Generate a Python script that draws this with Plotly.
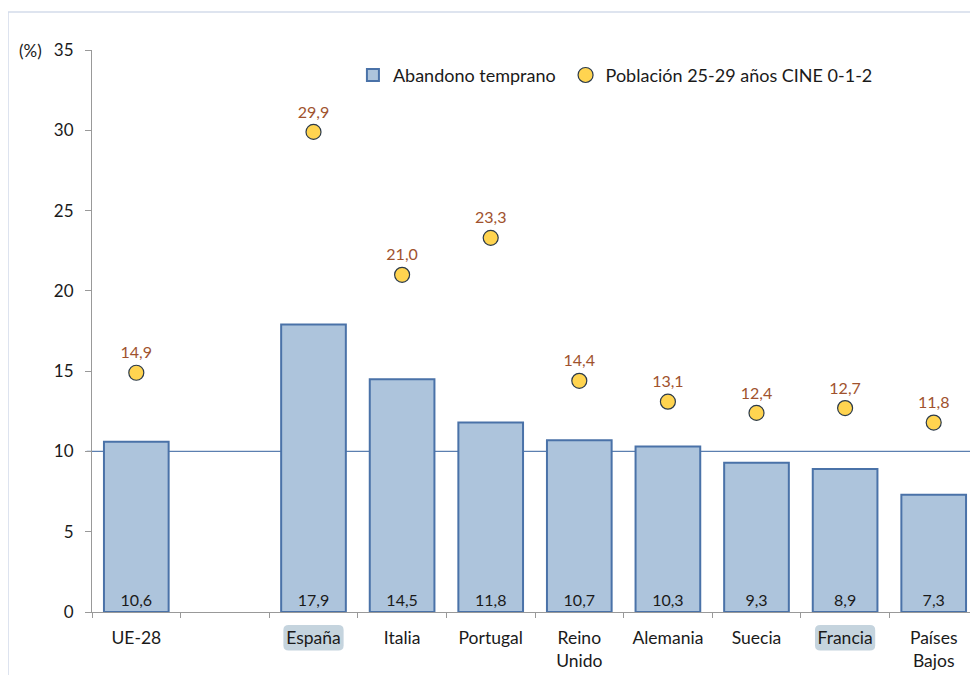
import plotly.graph_objects as go

categories = ["UE-28", " ", "España", "Italia", "Portugal", "Reino<br>Unido",
              "Alemania", "Suecia", "Francia", "Países<br>Bajos"]
abandono = [10.6, None, 17.9, 14.5, 11.8, 10.7, 10.3, 9.3, 8.9, 7.3]
poblacion = [14.9, None, 29.9, 21.0, 23.3, 14.4, 13.1, 12.4, 12.7, 11.8]
objetivo = 10
highlighted = ["España", "Francia"]

def fmt(v):
    return "" if v is None else f"{v:.1f}".replace(".", ",")

FONT = "Lato, 'Noto Sans', sans-serif"

fig = go.Figure()
fig.add_trace(go.Bar(
    x=categories, y=abandono, name="Abandono temprano", legend="legend",
    marker=dict(color="#adc4dc", line=dict(color="#4a72a8", width=2)),
    text=[fmt(v) for v in abandono], textposition="inside",
    insidetextanchor="start", textangle=0,
    textfont=dict(size=16, color="#1a1a1a", family=FONT),
    cliponaxis=False,
))
fig.add_trace(go.Scatter(
    x=categories, y=poblacion, name="Población 25-29 años CINE 0-1-2", legend="legend2",
    mode="markers+text",
    marker=dict(size=15, color="#ffd450", line=dict(color="#2b3a4a", width=1.2)),
    text=[fmt(v) for v in poblacion], textposition="top center",
    textfont=dict(size=16, color="#a0522d", family=FONT),
    cliponaxis=False,
))

shapes = [
    dict(type="line", xref="paper", yref="y", x0=-0.006, x1=1, y0=objetivo, y1=objetivo,
         line=dict(color="#5b7fb0", width=1.2), layer="below"),
    dict(type="rect", xref="paper", yref="paper", x0=-0.0948, x1=1.05, y0=-0.3, y1=1.0676,
         line=dict(color="#d3dbea", width=1.5), fillcolor="rgba(0,0,0,0)", layer="below"),
]

def rounded(xc, hw, y0, y1, rx, ry):
    xa, xb = xc - hw, xc + hw
    return (f"M {xa+rx},{y1} L {xb-rx},{y1} Q {xb},{y1} {xb},{y1-ry} "
            f"L {xb},{y0+ry} Q {xb},{y0} {xb-rx},{y0} L {xa+rx},{y0} "
            f"Q {xa},{y0} {xa},{y0+ry} L {xa},{y1-ry} Q {xa},{y1} {xa+rx},{y1} Z")

for name in highlighted:
    idx = categories.index(name)
    shapes.append(dict(type="path", xref="x", yref="paper",
                       path=rounded(idx, 0.34, -0.0685, -0.023, 0.06, 0.009),
                       fillcolor="#c5d4de", line=dict(width=0), layer="below"))

legend_common = dict(orientation="h", y=0.955, xanchor="left", yanchor="middle",
                     font=dict(size=18, family=FONT), bgcolor="rgba(0,0,0,0)",
                     itemwidth=30)

fig.update_layout(
    autosize=False,
    width=970, height=667,
    margin=dict(l=84, r=0, t=42, b=63, pad=0),
    paper_bgcolor="white", plot_bgcolor="white",
    font=dict(family=FONT, size=16, color="#1a1a1a"),
    bargap=0.27,
    showlegend=True,
    legend=dict(x=0.2945, **legend_common),
    legend2=dict(x=0.5345, **legend_common),
    shapes=shapes,
    annotations=[dict(text="(%)", xref="paper", yref="paper", x=-0.054, y=1.0,
                      xanchor="right", yanchor="middle", showarrow=False,
                      font=dict(size=17, family=FONT))],
    xaxis=dict(type="category", range=[-0.5, 9.5], autorange=False,
               tickson="boundaries", ticks="outside", ticklen=5,
               tickcolor="#999999", showline=True, linecolor="#999999", linewidth=1.2,
               showgrid=False, tickfont=dict(size=17.5, family=FONT), tickangle=0,
               ticklabelstandoff=10, automargin=False),
    yaxis=dict(range=[0, 35], dtick=5, ticks="outside", ticklen=6, tickcolor="#999999",
               showline=True, linecolor="#999999", linewidth=1.2, showgrid=False,
               zeroline=False, tickfont=dict(size=17, family=FONT), ticklabelstandoff=8,
               automargin=False),
)

fig.write_html("out.html")
